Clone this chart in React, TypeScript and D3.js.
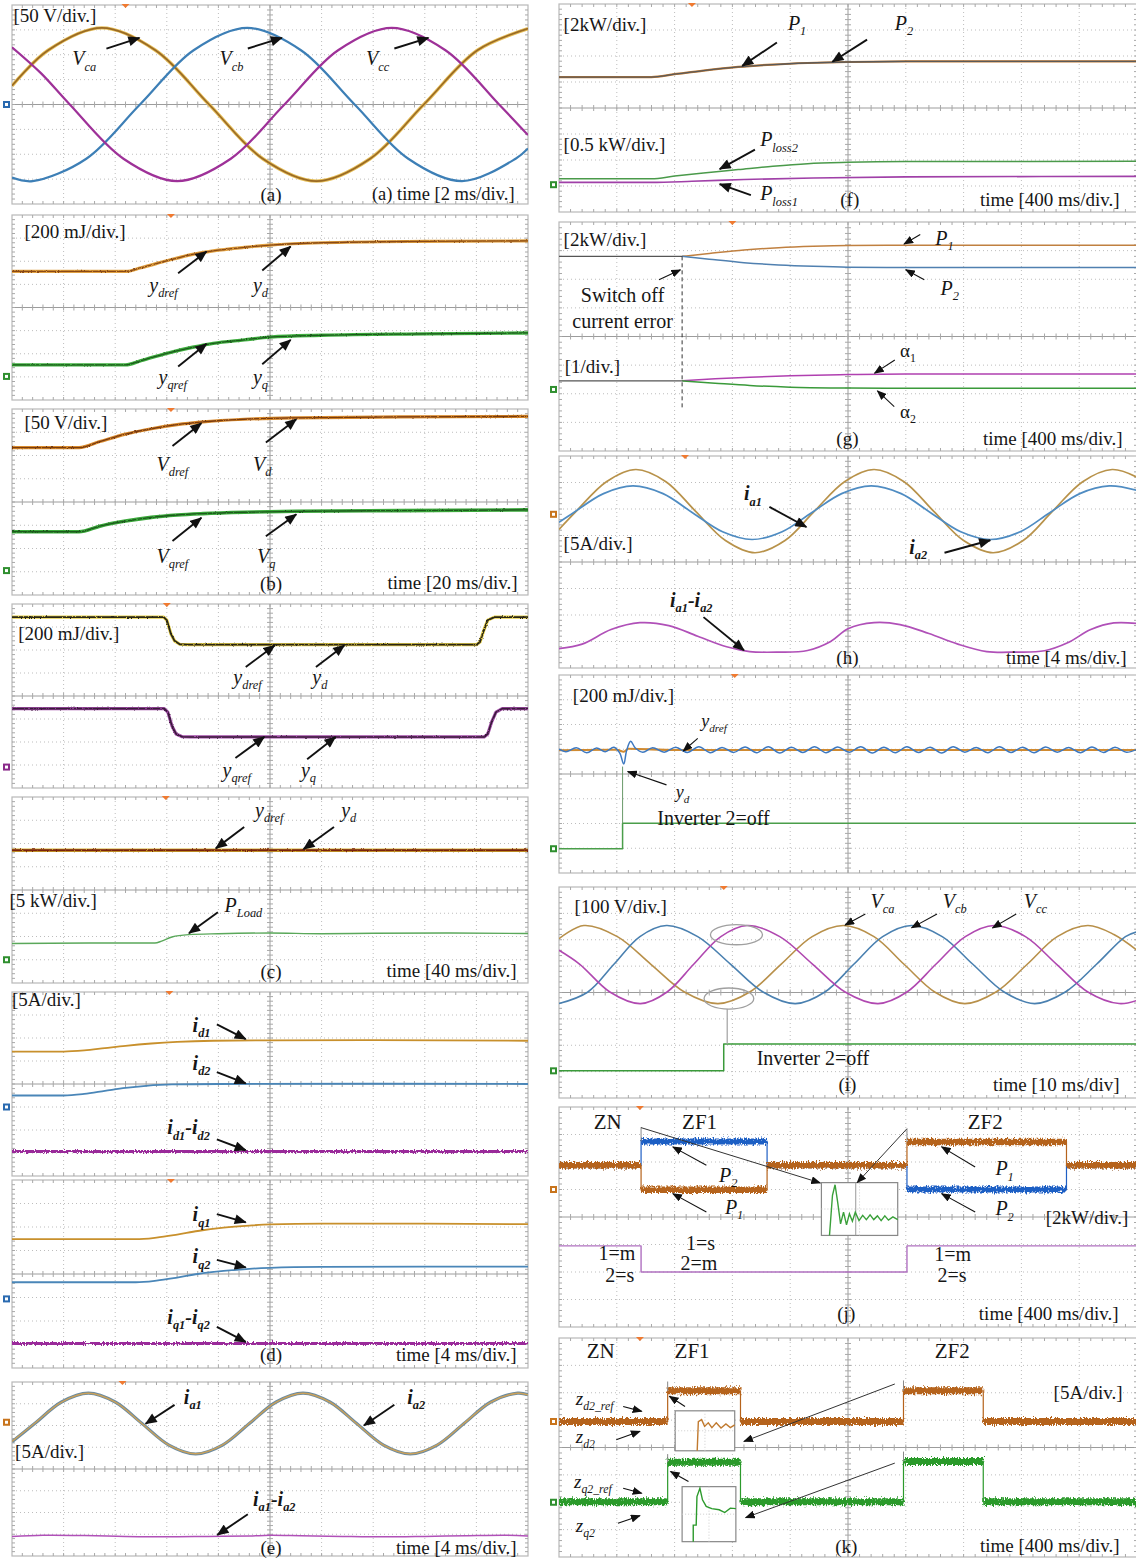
import React from "react";
import * as d3 from "d3";

type Pt = [number, number];

// ---------------- DATA (x in divisions 0..10, y in divisions -4..4) ----------------
// (a) three-phase voltages, 50 V/div
const aVca: Pt[] = [[0,0.75],[0.7,2.18],[1.74,3.08],[2.78,2.18],[3.82,0],[4.86,-2.18],[5.9,-3.08],[6.94,-2.18],[7.98,0],[9.02,2.18],[10,3.05]];
const aVcb: Pt[] = [[0,-2.94],[0.4,-3.08],[1.44,-2.18],[2.48,0],[3.52,2.18],[4.56,3.08],[5.6,2.18],[6.64,0],[7.68,-2.18],[8.72,-3.08],[9.76,-2.18],[10,-1.77]];
const aVcc: Pt[] = [[0,2.3],[0.56,1.26],[1.12,0],[2.16,-2.18],[3.2,-3.08],[4.24,-2.18],[5.28,0],[6.32,2.18],[7.36,3.08],[8.4,2.18],[9.44,0],[10,-1.23]];
// (b) upper
const b1Yd: Pt[] = [[0,1.56],[2.2,1.56],[2.5,1.72],[3.0,2.02],[3.5,2.3],[3.9,2.45],[4.5,2.6],[5.0,2.7],[6,2.8],[8,2.86],[10,2.88]];
const b1Yq: Pt[] = [[0,-2.48],[2.2,-2.48],[2.5,-2.3],[3.0,-1.98],[3.5,-1.72],[3.9,-1.55],[4.5,-1.4],[5.0,-1.28],[6,-1.2],[8,-1.14],[10,-1.1]];
// (b) lower
const b2Vd: Pt[] = [[0,2.34],[1.3,2.34],[1.7,2.6],[2.2,2.92],[2.7,3.15],[3.2,3.33],[3.7,3.45],[4.5,3.56],[5.5,3.62],[7.5,3.66],[10,3.68]];
const b2Vq: Pt[] = [[0,-1.28],[1.3,-1.28],[1.7,-1.04],[2.2,-0.82],[2.7,-0.66],[3.2,-0.56],[3.7,-0.5],[4.5,-0.44],[5.5,-0.4],[7.5,-0.37],[10,-0.34]];
// (c) upper
const c1Yd: Pt[] = [[0,3.43],[2.94,3.43],[3.0,3.3],[3.08,2.7],[3.15,2.4],[3.25,2.25],[3.4,2.23],[9.0,2.23],[9.07,2.35],[9.15,2.9],[9.22,3.3],[9.35,3.43],[10,3.43]];
const c1Yq: Pt[] = [[0,-0.55],[2.95,-0.55],[3.02,-0.7],[3.1,-1.3],[3.18,-1.65],[3.3,-1.77],[3.45,-1.78],[9.15,-1.78],[9.22,-1.65],[9.3,-1.1],[9.38,-0.7],[9.5,-0.55],[10,-0.55]];
// (c) lower
const c2Yd: Pt[] = [[0,1.71],[10,1.71]];
const c2Pload: Pt[] = [[0,-2.3],[1.5,-2.28],[2.77,-2.28],[2.9,-2.2],[3.1,-2.02],[3.42,-1.92],[4,-1.88],[5,-1.85],[6,-1.88],[7,-1.86],[8.5,-1.85],[10,-1.87]];
// (d) upper
const d1Id1: Pt[] = [[0,1.41],[1.0,1.41],[1.4,1.46],[1.8,1.56],[2.2,1.66],[2.7,1.76],[3.2,1.83],[3.9,1.88],[5,1.9],[7,1.91],[10,1.88]];
const d1Id2: Pt[] = [[0,-0.5],[1.0,-0.5],[1.4,-0.43],[1.8,-0.3],[2.2,-0.17],[2.6,-0.08],[3.1,-0.02],[4,0],[7,0.01],[10,0]];
const d1Diff: Pt[] = [[0,-2.94],[10,-2.94]];
// (d) lower
const d2Iq1: Pt[] = [[0,1.48],[2.4,1.48],[2.8,1.55],[3.2,1.68],[3.6,1.83],[4.1,1.97],[4.6,2.06],[5.0,2.11],[6,2.14],[8,2.14],[10,2.12]];
const d2Iq2: Pt[] = [[0,-0.35],[2.4,-0.35],[2.8,-0.28],[3.2,-0.15],[3.6,0.0],[4.1,0.13],[4.6,0.22],[5.0,0.26],[6,0.3],[8,0.31],[10,0.31]];
const d2Diff: Pt[] = [[0,-2.96],[10,-2.96]];
// (e)
const eIa1: Pt[] = [[0,1.25],[0.44,2.09],[0.96,3.08],[1.48,3.49],[2.0,3.08],[2.52,2.09],[3.04,1.1],[3.56,0.69],[4.08,1.1],[4.6,2.09],[5.12,3.08],[5.64,3.49],[6.16,3.08],[6.68,2.09],[7.2,1.1],[7.72,0.69],[8.24,1.1],[8.76,2.09],[9.28,3.08],[9.8,3.49],[10,3.42]];
const eIa2: Pt[] = [[0,1.27],[0.44,2.1],[0.96,3.08],[1.48,3.48],[2.0,3.07],[2.52,2.08],[3.04,1.1],[3.56,0.7],[4.08,1.11],[4.6,2.1],[5.12,3.08],[5.64,3.48],[6.16,3.07],[6.68,2.08],[7.2,1.1],[7.72,0.7],[8.24,1.11],[8.76,2.1],[9.28,3.08],[9.8,3.48],[10,3.41]];
const eDiff: Pt[] = [[0,-3.1],[0.6,-3.05],[1.4,-3.06],[2.2,-3.1],[3.0,-3.12],[3.8,-3.1],[4.6,-3.08],[5.0,-3.05],[5.6,-3.07],[6.4,-3.1],[7.2,-3.12],[8.0,-3.1],[8.8,-3.07],[9.6,-3.05],[10,-3.08]];
// (f)
const fP1: Pt[] = [[0,1.19],[1.6,1.19],[2.0,1.3],[2.5,1.44],[3.1,1.58],[3.7,1.67],[4.3,1.73],[5.0,1.77],[6,1.79],[10,1.79]];
const fP2: Pt[] = [[0,1.19],[1.6,1.19],[2.0,1.3],[2.5,1.44],[3.1,1.58],[3.7,1.67],[4.3,1.73],[5.0,1.77],[6,1.79],[10,1.79]];
const fPloss2: Pt[] = [[0,-2.72],[1.6,-2.72],[2.0,-2.62],[2.5,-2.5],[3.1,-2.37],[3.7,-2.24],[4.3,-2.14],[5.0,-2.09],[6,-2.06],[10,-2.05]];
const fPloss1: Pt[] = [[0,-2.86],[1.6,-2.86],[2.3,-2.82],[3.2,-2.75],[4.4,-2.69],[6,-2.65],[10,-2.63]];
// (g)
const gPcommon: Pt[] = [[0,2.8],[2.13,2.8]];
const gP1: Pt[] = [[2.13,2.8],[2.6,2.9],[3.2,3.02],[3.8,3.1],[4.4,3.15],[5.0,3.18],[6,3.19],[10,3.19]];
const gP2: Pt[] = [[2.13,2.8],[2.6,2.7],[3.2,2.58],[3.8,2.5],[4.4,2.45],[5.0,2.42],[6,2.41],[10,2.41]];
const gAcommon: Pt[] = [[0,-1.55],[2.13,-1.55]];
const gA1: Pt[] = [[2.13,-1.55],[2.7,-1.48],[3.3,-1.42],[4.0,-1.37],[5.0,-1.33],[6,-1.31],[10,-1.31]];
const gA2: Pt[] = [[2.13,-1.55],[2.7,-1.63],[3.3,-1.71],[4.0,-1.77],[5.0,-1.8],[6,-1.81],[10,-1.81]];
// (h)
const hIa2: Pt[] = [[0,1.23],[0.3,1.92],[0.82,3.03],[1.33,3.49],[1.85,3.03],[2.36,1.92],[2.88,0.81],[3.39,0.35],[3.91,0.81],[4.42,1.92],[4.94,3.03],[5.45,3.49],[5.97,3.03],[6.48,1.92],[7.0,0.81],[7.51,0.35],[8.03,0.81],[8.54,1.92],[9.06,3.03],[9.57,3.49],[10,3.2]];
const hIa1: Pt[] = [[0,1.5],[0.25,1.86],[0.77,2.58],[1.28,2.87],[1.8,2.58],[2.31,1.86],[2.83,1.14],[3.34,0.85],[3.86,1.14],[4.37,1.86],[4.89,2.58],[5.4,2.87],[5.92,2.58],[6.43,1.86],[6.95,1.14],[7.46,0.85],[7.98,1.14],[8.49,1.86],[9.01,2.58],[9.52,2.87],[10,2.7]];
const hDiff: Pt[] = [[0,-3.27],[0.4,-3.1],[0.9,-2.55],[1.4,-2.29],[1.9,-2.4],[2.4,-2.8],[2.9,-3.2],[3.3,-3.38],[3.8,-3.4],[4.3,-3.34],[4.7,-3.0],[5.0,-2.52],[5.45,-2.29],[5.9,-2.36],[6.4,-2.7],[6.9,-3.1],[7.4,-3.38],[7.9,-3.4],[8.4,-3.35],[8.8,-3.05],[9.2,-2.55],[9.6,-2.3],[10,-2.32]];
// (i) upper
const i1Ydref: Pt[] = [[0,0.96],[1.0,0.98],[1.12,0.9],[1.2,1.02],[2,0.97],[5,0.97],[10,0.97]];
const i1Yd: Pt[] = [[0,1.0],[0.12,0.9],[0.3,1.06],[0.48,0.86],[0.65,1.05],[0.8,0.9],[0.95,1.08],[1.05,0.85],[1.12,0.4],[1.17,0.95],[1.24,1.32],[1.32,1.05],[1.45,0.88],[1.62,1.06],[1.82,0.88],[2.02,1.08],[2.22,0.87],[2.42,1.1],[2.62,0.86],[2.82,1.07],[3.02,0.87],[3.22,1.09],[3.42,0.86],[3.62,1.1],[3.82,0.85],[4.02,1.08],[4.22,0.87],[4.42,1.1],[4.62,0.86],[4.82,1.09],[5.02,0.88],[5.22,1.1],[5.42,0.85],[5.62,1.08],[5.82,0.86],[6.02,1.1],[6.22,0.87],[6.42,1.08],[6.62,0.85],[6.82,1.1],[7.02,0.88],[7.22,1.07],[7.42,0.86],[7.62,1.1],[7.82,0.87],[8.02,1.08],[8.22,0.86],[8.42,1.09],[8.62,0.88],[8.82,1.07],[9.02,0.86],[9.22,1.09],[9.42,0.87],[9.62,1.08],[9.82,0.88],[10,1.0]];
const i1Step: Pt[] = [[0,-3.02],[1.1,-3.02],[1.1,-1.99],[10,-1.99]];
// (i) lower
const i2Vca: Pt[] = [[0,2.04],[0.43,2.54],[1.01,2.12],[1.59,1.07],[2.17,0.02],[2.75,-0.42],[3.3,0.02],[3.84,1.07],[4.38,2.12],[4.92,2.54],[5.45,2.12],[5.97,1.07],[6.5,0.02],[7.02,-0.42],[7.56,0.02],[8.1,1.07],[8.62,2.12],[9.15,2.54],[9.6,2.2],[10,1.6]];
const i2Vcb: Pt[] = [[0,-0.42],[0.5,0.02],[0.95,1.07],[1.4,2.12],[1.86,2.54],[2.4,2.12],[2.97,1.07],[3.53,0.02],[4.09,-0.42],[4.6,0.02],[5.1,1.07],[5.6,2.12],[6.1,2.54],[6.63,2.12],[7.16,1.07],[7.7,0.02],[8.23,-0.42],[8.76,0.02],[9.3,1.07],[9.8,2.12],[10,2.3]];
const i2Vcc: Pt[] = [[0,1.6],[0.36,1.07],[0.88,0.02],[1.41,-0.42],[1.87,0.02],[2.33,1.07],[2.8,2.12],[3.26,2.54],[3.82,2.12],[4.39,1.07],[4.95,0.02],[5.52,-0.42],[6.02,0.02],[6.52,1.07],[7.03,2.12],[7.53,2.54],[8.07,2.12],[8.61,1.07],[9.15,0.02],[9.69,-0.42],[10,-0.3]];
const i2Step: Pt[] = [[0,-2.97],[2.85,-2.97],[2.85,-1.95],[10,-1.95]];
// (j)
const jP1: Pt[] = [[0,1.88],[1.42,1.88],[1.42,0.99],[3.6,0.99],[3.6,1.88],[6.02,1.88],[6.02,2.73],[8.78,2.73],[8.78,1.88],[10,1.88]];
const jP2: Pt[] = [[0,1.88],[1.42,1.88],[1.42,2.75],[3.6,2.75],[3.6,1.88],[6.02,1.88],[6.02,1.0],[8.78,1.0],[8.78,1.88],[10,1.88]];
const jMode: Pt[] = [[0,-1.05],[1.42,-1.05],[1.42,-2.0],[6.02,-2.0],[6.02,-1.05],[10,-1.05]];
const jInset: Pt[] = [[0.106,0],[0.145,0.76],[0.179,0.96],[0.213,0.63],[0.251,0.22],[0.29,0.44],[0.329,0.2],[0.367,0.41],[0.406,0.27],[0.444,0.44],[0.493,0.28],[0.541,0.38],[0.589,0.3],[0.638,0.39],[0.686,0.3],[0.734,0.37],[0.783,0.28],[0.831,0.37],[0.879,0.29],[0.937,0.35],[1,0.3]];
// (k)
const kZd2: Pt[] = [[0,0.95],[1.88,0.95],[1.88,2.07],[3.14,2.07],[3.14,0.95],[5.96,0.95],[5.96,2.07],[7.34,2.07],[7.34,0.95],[10,0.95]];
const kZq2: Pt[] = [[0,-1.98],[1.88,-1.98],[1.88,-0.54],[3.14,-0.54],[3.14,-1.98],[5.96,-1.98],[5.96,-0.51],[7.34,-0.51],[7.34,-1.98],[10,-1.98]];
const kInsetD: Pt[] = [[0.37,0],[0.389,0.73],[0.444,0.78],[0.494,0.61],[0.556,0.7],[0.617,0.58],[0.69,0.7],[0.77,0.57],[0.852,0.67],[0.926,0.58],[1,0.65]];
const kInsetQ: Pt[] = [[0.207,0],[0.207,0.3],[0.262,0.3],[0.276,0.82],[0.331,0.97],[0.379,0.76],[0.448,0.64],[0.552,0.6],[0.69,0.58],[0.793,0.53],[0.897,0.61],[1,0.6]];

// ---------------- STYLE ----------------
const FONT = "'Liberation Serif','Times New Roman',serif";
const C = {
  tan: "#b8924a", lblue: "#4f8cc2", lmag: "#b050b8",
  brown: "#b5631c", jblue: "#1f5fc4", kgreen: "#2c9a2c", gray: "#555",
};
const TS = 19; // plain text size
const IS = 20; // italic symbol size

type Trace = { data: Pt[]; color: string; width: number; curve?: any; filter?: string; band?: number; opacity?: number };
type Part = [string, string?];
type Lbl = { x: number; y: number; parts: Part[]; size?: number; italic?: boolean; bold?: boolean; anchor?: string };
type Arrow = { from: Pt; to: Pt; thin?: boolean };
type Seg = { from: Pt; to: Pt; color?: string; width?: number; dash?: string };
type Ell = { c: Pt; rx: number; ry: number };
type Inset = { box: [number, number, number, number]; trace: Pt[]; color: string; vline?: number };
type PanelCfg = {
  id: string; x0: number; x1: number; y0: number; y1: number;
  traces: Trace[]; labels: Lbl[]; arrows: Arrow[];
  segs?: Seg[]; ells?: Ell[]; insets?: Inset[]; calls?: Arrow[];
  markers?: { y: number; color: string }[]; trig?: number;
};

const mono = d3.curveMonotoneX;
const cat = d3.curveCatmullRom;
const lin = d3.curveLinear;

function Label({ x, y, parts, size = TS, italic, bold, anchor = "start" }: any) {
  const sub = size * 0.62;
  const shift = size * 0.27;
  const kids: any[] = [];
  let down = false;
  (parts as Part[]).forEach(([m, s], i) => {
    kids.push(<tspan key={"m" + i} dy={down ? -shift : 0} fontSize={size}>{m}</tspan>);
    down = false;
    if (s) {
      kids.push(<tspan key={"s" + i} dy={shift} fontSize={sub}>{s}</tspan>);
      down = true;
    }
  });
  return (
    <text x={x} y={y} fontFamily={FONT} fontStyle={italic ? "italic" : "normal"}
      fontWeight={bold ? "bold" : "normal"} textAnchor={anchor} fill="#161616">{kids}</text>
  );
}

function Panel({ p }: { p: PanelCfg }) {
  const sx = d3.scaleLinear().domain([0, 10]).range([p.x0, p.x1]);
  const sy = d3.scaleLinear().domain([-4, 4]).range([p.y1, p.y0]);
  const line = (curve: any) => d3.line<Pt>().x(d => sx(d[0])).y(d => sy(d[1])).curve(curve || lin);
  const clipId = "clip-" + p.id;
  const gx = d3.range(1, 10).filter(v => v !== 5);
  const gy = d3.range(-3, 4).filter(v => v !== 0);
  const mx = d3.range(1, 50).map(i => i * 0.2);
  const my = d3.range(1, 40).map(i => -4 + i * 0.2);
  const tickC = "#a8a8a8";
  return (
    <g>
      <defs>
        <clipPath id={clipId}><rect x={p.x0} y={p.y0} width={p.x1 - p.x0} height={p.y1 - p.y0} /></clipPath>
      </defs>
      <rect x={p.x0} y={p.y0} width={p.x1 - p.x0} height={p.y1 - p.y0} fill="#fff" stroke="#b8b8b8" strokeWidth={1.2} />
      {gx.map(v => <line key={"gx" + v} x1={sx(v)} x2={sx(v)} y1={p.y0} y2={p.y1} stroke="#bdbdbd" strokeDasharray="1,3" />)}
      {gy.map(v => <line key={"gy" + v} y1={sy(v)} y2={sy(v)} x1={p.x0} x2={p.x1} stroke="#bdbdbd" strokeDasharray="1,3" />)}
      <line x1={sx(5)} x2={sx(5)} y1={p.y0} y2={p.y1} stroke="#9c9c9c" />
      <line y1={sy(0)} y2={sy(0)} x1={p.x0} x2={p.x1} stroke="#9c9c9c" />
      {mx.map(v => <line key={"tx" + v} x1={sx(v)} x2={sx(v)} y1={sy(0) - 3} y2={sy(0) + 3} stroke={tickC} />)}
      {my.map(v => <line key={"ty" + v} y1={sy(v)} y2={sy(v)} x1={sx(5) - 3} x2={sx(5) + 3} stroke={tickC} />)}
      {mx.map(v => <line key={"tt" + v} x1={sx(v)} x2={sx(v)} y1={p.y0} y2={p.y0 + 3} stroke={tickC} />)}
      {mx.map(v => <line key={"tb" + v} x1={sx(v)} x2={sx(v)} y1={p.y1} y2={p.y1 - 3} stroke={tickC} />)}
      {my.map(v => <line key={"tl" + v} y1={sy(v)} y2={sy(v)} x1={p.x0} x2={p.x0 + 3} stroke={tickC} />)}
      {my.map(v => <line key={"tr" + v} y1={sy(v)} y2={sy(v)} x1={p.x1} x2={p.x1 - 3} stroke={tickC} />)}
      <g clipPath={`url(#${clipId})`}>
        {p.traces.map((t, i) => {
          if (t.band) {
            const segs: Pt[][] = [];
            for (let k = 0; k < t.data.length - 1; k++) if (t.data[k][1] === t.data[k + 1][1]) segs.push([t.data[k], t.data[k + 1]]);
            return (
              <g key={"tr" + i}>
                <path d={line(lin)(t.data) || ""} fill="none" stroke={t.color} strokeWidth={1.2} />
                <g filter={t.filter ? `url(#${t.filter})` : undefined}>
                  {segs.map((s, j) => <path key={j} d={line(lin)(s) || ""} fill="none" stroke={t.color} strokeWidth={t.band} />)}
                </g>
              </g>
            );
          }
          return <path key={"tr" + i} d={line(t.curve)(t.data) || ""} fill="none" stroke={t.color}
            strokeWidth={t.width} strokeOpacity={t.opacity ?? 1} strokeLinejoin="round"
            filter={t.filter ? `url(#${t.filter})` : undefined} />;
        })}
      </g>
      {(p.segs || []).map((s, i) => <line key={"sg" + i} x1={sx(s.from[0])} y1={sy(s.from[1])} x2={sx(s.to[0])} y2={sy(s.to[1])}
        stroke={s.color || "#777"} strokeWidth={s.width || 1} strokeDasharray={s.dash} />)}
      {(p.ells || []).map((e, i) => <ellipse key={"el" + i} cx={sx(e.c[0])} cy={sy(e.c[1])}
        rx={sx(e.rx) - sx(0)} ry={sy(0) - sy(e.ry)} fill="none" stroke="#a0a0a0" strokeWidth={1.3} />)}
      {(p.insets || []).map((ins, i) => {
        const [a, b, c, d] = ins.box;
        const ix = d3.scaleLinear().domain([0, 1]).range([sx(a), sx(c)]);
        const iy = d3.scaleLinear().domain([0, 1]).range([sy(d), sy(b)]);
        const il = d3.line<Pt>().x(q => ix(q[0])).y(q => iy(q[1]));
        return (
          <g key={"in" + i}>
            <rect x={sx(a)} y={sy(b)} width={sx(c) - sx(a)} height={sy(d) - sy(b)} fill="#fff" stroke="#888" strokeWidth={1.2} />
            <line x1={ix(0.5)} x2={ix(0.5)} y1={iy(0)} y2={iy(1)} stroke="#ccc" strokeDasharray="1,2" />
            <line x1={ix(0)} x2={ix(1)} y1={iy(0.5)} y2={iy(0.5)} stroke="#ccc" strokeDasharray="1,2" />
            {ins.vline !== undefined && <line x1={ix(ins.vline)} x2={ix(ins.vline)} y1={iy(0)} y2={iy(1)} stroke="#999" />}
            <path d={il(ins.trace) || ""} fill="none" stroke={ins.color} strokeWidth={1.4} />
          </g>
        );
      })}
      {(p.calls || []).map((a, i) => <line key={"cl" + i} x1={sx(a.from[0])} y1={sy(a.from[1])} x2={sx(a.to[0])} y2={sy(a.to[1])}
        stroke="#333" strokeWidth={1} markerEnd="url(#ahs)" />)}
      {p.arrows.map((a, i) => <line key={"ar" + i} x1={sx(a.from[0])} y1={sy(a.from[1])} x2={sx(a.to[0])} y2={sy(a.to[1])}
        stroke="#111" strokeWidth={a.thin ? 1.1 : 1.9} markerEnd={a.thin ? "url(#ahs)" : "url(#ahb)"} />)}
      {p.labels.map((l, i) => <Label key={"lb" + i} {...l} x={sx(l.x)} y={sy(l.y)} />)}
      {(p.markers || []).map((m, i) => (
        <g key={"mk" + i}>
          <rect x={p.x0 - 9} y={sy(m.y) - 3.5} width={7} height={7} fill={m.color} />
          <rect x={p.x0 - 7} y={sy(m.y) - 1.5} width={3} height={3} fill="#fff" />
        </g>
      ))}
      {p.trig !== undefined && <path d={`M${sx(p.trig) - 4},${p.y0 - 1} L${sx(p.trig) + 4},${p.y0 - 1} L${sx(p.trig)},${p.y0 + 3} Z`} fill="#f07a30" />}
    </g>
  );
}

const L = { x0: 12, x1: 528 };
const R = { x0: 559, x1: 1137 };
const tl = (t: string): Part[] => [[t]];
const it = (m: string, s: string): Part[] => [[m, s]];

const panels: PanelCfg[] = [
  { id: "a", ...L, y0: 5, y1: 204, trig: 2.2,
    traces: [
      { data: aVca, color: "#e6bf5a", width: 3.4, curve: cat },
      { data: aVca, color: "#9a6a24", width: 1.6, curve: cat },
      { data: aVcb, color: "#3d7fb6", width: 2.2, curve: cat },
      { data: aVcc, color: "#9e3198", width: 2.2, curve: cat },
    ],
    labels: [
      { x: 0.03, y: 3.3, parts: tl("[50 V/div.]") },
      { x: 1.17, y: 1.58, parts: it("V", "ca"), italic: true, size: IS },
      { x: 4.02, y: 1.58, parts: it("V", "cb"), italic: true, size: IS },
      { x: 6.86, y: 1.58, parts: it("V", "cc"), italic: true, size: IS },
      { x: 5.02, y: -3.88, parts: tl("(a)"), anchor: "middle" },
      { x: 9.74, y: -3.82, parts: tl("(a) time [2 ms/div.]"), anchor: "end", size: 18.5 },
    ],
    arrows: [
      { from: [1.83, 2.25], to: [2.47, 2.68] },
      { from: [4.57, 2.25], to: [5.23, 2.68] },
      { from: [7.41, 2.25], to: [8.07, 2.68] },
    ],
    markers: [{ y: 0, color: "#2a6ab0" }],
  },
  { id: "b1", ...L, y0: 215, y1: 400, trig: 3.08,
    traces: [
      { data: b1Yd, color: "#e0a040", width: 3.2, curve: mono },
      { data: b1Yd, color: "#8a4a14", width: 1.3, curve: mono, filter: "nL" },
      { data: b1Yq, color: "#3fae3f", width: 3.4, curve: mono },
      { data: b1Yq, color: "#1d5a1d", width: 1.3, curve: mono, filter: "nL" },
    ],
    labels: [
      { x: 0.24, y: 3.0, parts: tl("[200 mJ/div.]") },
      { x: 2.66, y: 0.69, parts: it("y", "dref"), italic: true, size: IS },
      { x: 4.67, y: 0.69, parts: it("y", "d"), italic: true, size: IS },
      { x: 2.84, y: -3.3, parts: it("y", "qref"), italic: true, size: IS },
      { x: 4.67, y: -3.3, parts: it("y", "q"), italic: true, size: IS },
    ],
    arrows: [
      { from: [3.22, 1.48], to: [3.77, 2.42] },
      { from: [4.85, 1.6], to: [5.4, 2.64] },
      { from: [3.22, -2.55], to: [3.77, -1.57] },
      { from: [4.85, -2.45], to: [5.4, -1.4] },
    ],
    markers: [{ y: -2.98, color: "#2f8f2f" }],
  },
  { id: "b2", ...L, y0: 409, y1: 595, trig: 3.08,
    traces: [
      { data: b2Vd, color: "#d88a2c", width: 3.2, curve: mono },
      { data: b2Vd, color: "#7a3a10", width: 1.3, curve: mono, filter: "nL" },
      { data: b2Vq, color: "#3aa83a", width: 3.6, curve: mono },
      { data: b2Vq, color: "#1d5a1d", width: 1.3, curve: mono, filter: "nL" },
    ],
    labels: [
      { x: 0.24, y: 3.13, parts: tl("[50 V/div.]") },
      { x: 2.8, y: 1.34, parts: it("V", "dref"), italic: true, size: IS },
      { x: 4.67, y: 1.34, parts: it("V", "d"), italic: true, size: IS },
      { x: 2.8, y: -2.61, parts: it("V", "qref"), italic: true, size: IS },
      { x: 4.75, y: -2.61, parts: it("V", "q"), italic: true, size: IS },
      { x: 5.02, y: -3.8, parts: tl("(b)"), anchor: "middle" },
      { x: 9.8, y: -3.75, parts: tl("time [20 ms/div.]"), anchor: "end" },
    ],
    arrows: [
      { from: [3.11, 2.41], to: [3.67, 3.39] },
      { from: [4.92, 2.56], to: [5.51, 3.56] },
      { from: [3.11, -1.68], to: [3.67, -0.68] },
      { from: [4.92, -1.47], to: [5.51, -0.53] },
    ],
    markers: [{ y: -2.95, color: "#2f8f2f" }],
  },
  { id: "c1", ...L, y0: 604, y1: 788, trig: 3.0,
    traces: [
      { data: c1Yd, color: "#e2cc44", width: 3.2, curve: lin },
      { data: c1Yd, color: "#2a2618", width: 1.8, curve: lin, filter: "nL" },
      { data: c1Yq, color: "#a04aa6", width: 3.2, curve: lin },
      { data: c1Yq, color: "#3a1a3a", width: 1.6, curve: lin, filter: "nL" },
    ],
    labels: [
      { x: 0.12, y: 2.42, parts: tl("[200 mJ/div.]") },
      { x: 4.29, y: 0.54, parts: it("y", "dref"), italic: true, size: IS },
      { x: 5.82, y: 0.54, parts: it("y", "d"), italic: true, size: IS },
      { x: 4.08, y: -3.5, parts: it("y", "qref"), italic: true, size: IS },
      { x: 5.6, y: -3.5, parts: it("y", "q"), italic: true, size: IS },
    ],
    arrows: [
      { from: [4.53, 1.26], to: [5.09, 2.2] },
      { from: [5.89, 1.26], to: [6.44, 2.2] },
      { from: [4.33, -2.7], to: [4.89, -1.78] },
      { from: [5.72, -2.75], to: [6.27, -1.78] },
    ],
    markers: [{ y: -3.09, color: "#8a2a8a" }],
  },
  { id: "c2", ...L, y0: 797, y1: 983, trig: 2.98,
    traces: [
      { data: c2Yd, color: "#d4b030", width: 3.4 },
      { data: c2Yd, color: "#7a2410", width: 1.8, filter: "nL" },
      { data: c2Pload, color: "#5aa85a", width: 1.4, curve: mono },
    ],
    labels: [
      { x: 4.71, y: 3.14, parts: it("y", "dref"), italic: true, size: IS },
      { x: 6.38, y: 3.14, parts: it("y", "d"), italic: true, size: IS },
      { x: -0.05, y: -0.71, parts: tl("[5 kW/div.]") },
      { x: 4.12, y: -0.93, parts: it("P", "Load"), italic: true, size: IS },
      { x: 5.02, y: -3.8, parts: tl("(c)"), anchor: "middle" },
      { x: 9.78, y: -3.75, parts: tl("time [40 ms/div.]"), anchor: "end" },
    ],
    arrows: [
      { from: [4.5, 2.71], to: [3.95, 1.79] },
      { from: [6.24, 2.71], to: [5.65, 1.76] },
      { from: [3.99, -0.96], to: [3.43, -1.86] },
    ],
    markers: [{ y: -3.0, color: "#2f8f2f" }],
  },
  { id: "d1", ...L, y0: 992, y1: 1176, trig: 3.05,
    traces: [
      { data: d1Id1, color: "#c8902c", width: 1.8, curve: mono },
      { data: d1Id2, color: "#4a86b8", width: 1.8, curve: mono },
      { data: d1Diff, color: "#9a2a9a", width: 3, filter: "nM" },
    ],
    labels: [
      { x: 0.0, y: 3.4, parts: tl("[5A/div.]") },
      { x: 3.5, y: 2.28, parts: it("i", "d1"), italic: true, bold: true, size: IS },
      { x: 3.5, y: 0.62, parts: it("i", "d2"), italic: true, bold: true, size: IS },
      { x: 3.01, y: -2.19, parts: [["i", "d1"], ["-i", "d2"]], italic: true, bold: true, size: IS },
    ],
    arrows: [
      { from: [3.97, 2.59], to: [4.53, 1.95] },
      { from: [3.97, 0.52], to: [4.53, 0.03] },
      { from: [3.97, -2.41], to: [4.53, -2.88] },
    ],
    markers: [{ y: -1.0, color: "#2a6ab0" }],
  },
  { id: "d2", ...L, y0: 1180, y1: 1368, trig: 3.08,
    traces: [
      { data: d2Iq1, color: "#c8902c", width: 1.8, curve: mono },
      { data: d2Iq2, color: "#4a86b8", width: 1.8, curve: mono },
      { data: d2Diff, color: "#9a2a9a", width: 3, filter: "nM" },
    ],
    labels: [
      { x: 3.5, y: 2.25, parts: it("i", "q1"), italic: true, bold: true, size: IS },
      { x: 3.5, y: 0.45, parts: it("i", "q2"), italic: true, bold: true, size: IS },
      { x: 3.01, y: -2.11, parts: [["i", "q1"], ["-i", "q2"]], italic: true, bold: true, size: IS },
      { x: 5.02, y: -3.7, parts: tl("(d)"), anchor: "middle" },
      { x: 9.78, y: -3.7, parts: tl("time [4 ms/div.]"), anchor: "end" },
    ],
    arrows: [
      { from: [3.97, 2.55], to: [4.53, 2.2] },
      { from: [3.97, 0.6], to: [4.53, 0.28] },
      { from: [3.97, -2.25], to: [4.53, -2.89] },
    ],
    markers: [{ y: -1.06, color: "#2a6ab0" }],
  },
  { id: "e", ...L, y0: 1382, y1: 1556, trig: 2.14,
    traces: [
      { data: eIa1, color: "#6a8aa0", width: 3.2, curve: cat },
      { data: eIa2, color: "#caa15a", width: 1.4, curve: cat },
      { data: eDiff, color: "#b050b8", width: 1.5, curve: cat },
    ],
    labels: [
      { x: 0.06, y: 0.5, parts: tl("[5A/div.]") },
      { x: 3.33, y: 3.0, parts: it("i", "a1"), italic: true, bold: true, size: IS },
      { x: 7.66, y: 3.0, parts: it("i", "a2"), italic: true, bold: true, size: IS },
      { x: 4.67, y: -1.69, parts: [["i", "a1"], ["-i", "a2"]], italic: true, bold: true, size: IS },
      { x: 5.02, y: -3.92, parts: tl("(e)"), anchor: "middle" },
      { x: 9.78, y: -3.92, parts: tl("time [4 ms/div.]"), anchor: "end" },
    ],
    arrows: [
      { from: [3.15, 2.95], to: [2.59, 2.08] },
      { from: [7.41, 2.95], to: [6.82, 2.0] },
      { from: [4.57, -2.08], to: [3.98, -3.03] },
    ],
    markers: [{ y: 2.15, color: "#c8741c" }],
  },
  // ---------------- right column ----------------
  { id: "f", ...R, y0: 4, y1: 212, trig: 2.3,
    traces: [
      { data: fP1, color: "#c07830", width: 2.2, curve: mono },
      { data: fP2, color: "#5a5a5a", width: 1.3, curve: mono },
      { data: fPloss2, color: "#4a9a4a", width: 1.5, curve: mono },
      { data: fPloss1, color: "#a040a8", width: 1.6, curve: mono },
    ],
    labels: [
      { x: 0.08, y: 2.95, parts: tl("[2kW/div.]") },
      { x: 3.96, y: 3.0, parts: it("P", "1"), italic: true, size: IS },
      { x: 5.81, y: 3.0, parts: it("P", "2"), italic: true, size: IS },
      { x: 0.08, y: -1.67, parts: tl("[0.5 kW/div.]") },
      { x: 3.48, y: -1.47, parts: it("P", "loss2"), italic: true, size: IS },
      { x: 3.48, y: -3.55, parts: it("P", "loss1"), italic: true, size: IS },
      { x: 5.03, y: -3.75, parts: tl("(f)"), anchor: "middle" },
      { x: 9.7, y: -3.75, parts: tl("time [400 ms/div.]"), anchor: "end" },
    ],
    arrows: [
      { from: [3.77, 2.52], to: [3.17, 1.62] },
      { from: [5.33, 2.63], to: [4.73, 1.78] },
      { from: [3.39, -1.6], to: [2.78, -2.35] },
      { from: [3.32, -3.35], to: [2.78, -2.93] },
    ],
    markers: [{ y: -2.95, color: "#2f8f2f" }],
  },
  { id: "g", ...R, y0: 222, y1: 451, trig: 3.0,
    traces: [
      { data: gP1, color: "#c08040", width: 1.5, curve: mono },
      { data: gP2, color: "#5080b0", width: 1.5, curve: mono },
      { data: gPcommon, color: C.gray, width: 1.4 },
      { data: gA1, color: "#b040b0", width: 1.5, curve: mono },
      { data: gA2, color: "#3a9a3a", width: 1.5, curve: mono },
      { data: gAcommon, color: C.gray, width: 1.4 },
    ],
    segs: [{ from: [2.13, 2.8], to: [2.13, -2.57], color: "#333", width: 1, dash: "4,3" }],
    labels: [
      { x: 0.08, y: 3.15, parts: tl("[2kW/div.]") },
      { x: 1.1, y: 1.2, parts: tl("Switch off"), anchor: "middle", size: 20 },
      { x: 1.1, y: 0.29, parts: tl("current error"), anchor: "middle", size: 20 },
      { x: 6.51, y: 3.2, parts: it("P", "1"), italic: true, size: IS },
      { x: 6.6, y: 1.46, parts: it("P", "2"), italic: true, size: IS },
      { x: 0.1, y: -1.28, parts: tl("[1/div.]") },
      { x: 5.9, y: -0.7, parts: [["α", "1"]], size: 19 },
      { x: 5.9, y: -2.86, parts: [["α", "2"]], size: 19 },
      { x: 4.99, y: -3.79, parts: tl("(g)"), anchor: "middle" },
      { x: 9.75, y: -3.79, parts: tl("time [400 ms/div.]"), anchor: "end" },
    ],
    arrows: [
      { from: [1.73, 1.98], to: [2.1, 2.33], thin: true },
      { from: [6.25, 3.56], to: [5.97, 3.23], thin: true },
      { from: [6.32, 1.98], to: [6.0, 2.33], thin: true },
      { from: [5.81, -0.82], to: [5.46, -1.28], thin: true },
      { from: [5.8, -2.45], to: [5.51, -1.9], thin: true },
    ],
    markers: [{ y: -1.85, color: "#2f8f2f" }],
  },
  { id: "h", ...R, y0: 456, y1: 668, trig: 2.18,
    traces: [
      { data: hIa2, color: C.tan, width: 1.7, curve: cat },
      { data: hIa1, color: C.lblue, width: 1.7, curve: cat },
      { data: hDiff, color: C.lmag, width: 1.7, curve: cat },
    ],
    labels: [
      { x: 3.2, y: 2.33, parts: it("i", "a1"), italic: true, bold: true, size: IS },
      { x: 6.06, y: 0.3, parts: it("i", "a2"), italic: true, bold: true, size: IS },
      { x: 0.08, y: 0.44, parts: tl("[5A/div.]") },
      { x: 1.92, y: -1.7, parts: [["i", "a1"], ["-i", "a2"]], italic: true, bold: true, size: IS },
      { x: 4.99, y: -3.84, parts: tl("(h)"), anchor: "middle" },
      { x: 9.82, y: -3.84, parts: tl("time [4 ms/div.]"), anchor: "end" },
    ],
    arrows: [
      { from: [3.64, 2.08], to: [4.28, 1.32] },
      { from: [6.67, 0.35], to: [7.46, 0.82] },
      { from: [2.5, -2.08], to: [3.2, -3.33] },
    ],
    markers: [{ y: 1.8, color: "#c8741c" }],
  },
  { id: "i1", ...R, y0: 675, y1: 873, trig: 3.04,
    traces: [
      { data: i1Ydref, color: "#d08a30", width: 2.2, curve: mono },
      { data: i1Yd, color: "#3d78c0", width: 1.5, curve: cat },
      { data: i1Step, color: "#4a9e4a", width: 1.5 },
    ],
    segs: [{ from: [1.1, -1.99], to: [1.1, 0.3], color: "#6a9a6a", width: 1 }],
    labels: [
      { x: 0.24, y: 2.92, parts: tl("[200 mJ/div.]") },
      { x: 2.46, y: 1.88, parts: it("y", "dref"), italic: true, size: 18 },
      { x: 2.02, y: -0.98, parts: it("y", "d"), italic: true, size: 18 },
      { x: 1.7, y: -2.06, parts: tl("Inverter 2=off"), size: 20 },
    ],
    arrows: [
      { from: [2.4, 1.44], to: [2.15, 0.93], thin: true },
      { from: [1.86, -0.44], to: [1.19, 0.1], thin: true },
    ],
    markers: [{ y: -3.02, color: "#2f8f2f" }],
  },
  { id: "i2", ...R, y0: 887, y1: 1098, trig: 2.85,
    traces: [
      { data: i2Vca, color: "#b8904a", width: 1.6, curve: cat },
      { data: i2Vcb, color: "#4a80b0", width: 1.6, curve: cat },
      { data: i2Vcc, color: "#b048b0", width: 1.6, curve: cat },
      { data: i2Step, color: "#3a9a3a", width: 1.5 },
    ],
    ells: [{ c: [3.07, 2.19], rx: 0.45, ry: 0.38 }, { c: [2.94, -0.23], rx: 0.43, ry: 0.4 }],
    segs: [{ from: [2.91, -0.63], to: [2.91, -1.95], color: "#a0a0a0", width: 1.2 }],
    labels: [
      { x: 0.27, y: 3.02, parts: tl("[100 V/div.]") },
      { x: 5.39, y: 3.21, parts: it("V", "ca"), italic: true, size: IS },
      { x: 6.64, y: 3.21, parts: it("V", "cb"), italic: true, size: IS },
      { x: 8.04, y: 3.21, parts: it("V", "cc"), italic: true, size: IS },
      { x: 3.42, y: -2.75, parts: tl("Inverter 2=off"), size: 20 },
      { x: 4.99, y: -3.75, parts: tl("(i)"), anchor: "middle" },
      { x: 9.7, y: -3.75, parts: tl("time [10 ms/div]"), anchor: "end" },
    ],
    arrows: [
      { from: [5.3, 2.98], to: [4.95, 2.56], thin: true },
      { from: [6.54, 2.98], to: [6.1, 2.45], thin: true },
      { from: [7.91, 2.98], to: [7.5, 2.45], thin: true },
    ],
    markers: [{ y: -2.97, color: "#2f8f2f" }],
  },
  { id: "j", ...R, y0: 1107, y1: 1327, trig: 1.4,
    traces: [
      { data: jP2, color: C.jblue, width: 1, band: 6, filter: "nS" },
      { data: jP1, color: C.brown, width: 1, band: 6.5, filter: "nS" },
      { data: jMode, color: "#b070c0", width: 1.4 },
    ],
    segs: [
      { from: [1.42, 2.75], to: [1.42, 3.27], color: "#888", width: 1 },
      { from: [6.02, 2.73], to: [6.02, 3.21], color: "#888", width: 1 },
    ],
    calls: [
      { from: [1.42, 3.25], to: [4.52, 1.24] },
      { from: [6.02, 3.21], to: [5.16, 1.25] },
    ],
    insets: [{ box: [4.54, 1.25, 5.86, -0.67], trace: jInset, color: "#3aa03a", vline: 0.45 }],
    labels: [
      { x: 0.6, y: 3.21, parts: tl("ZN"), size: 21 },
      { x: 2.13, y: 3.21, parts: tl("ZF1"), size: 21 },
      { x: 7.07, y: 3.21, parts: tl("ZF2"), size: 21 },
      { x: 2.77, y: 1.27, parts: it("P", "2"), italic: true, size: IS },
      { x: 2.87, y: 0.12, parts: it("P", "1"), italic: true, size: IS },
      { x: 7.55, y: 1.52, parts: it("P", "1"), italic: true, size: IS },
      { x: 7.55, y: 0.06, parts: it("P", "2"), italic: true, size: IS },
      { x: 9.85, y: -0.24, parts: tl("[2kW/div.]"), anchor: "end" },
      { x: 1.0, y: -1.58, parts: tl("1=m"), anchor: "middle", size: 20 },
      { x: 1.05, y: -2.36, parts: tl("2=s"), anchor: "middle", size: 20 },
      { x: 2.45, y: -1.19, parts: tl("1=s"), anchor: "middle", size: 20 },
      { x: 2.42, y: -1.93, parts: tl("2=m"), anchor: "middle", size: 20 },
      { x: 6.81, y: -1.6, parts: tl("1=m"), anchor: "middle", size: 20 },
      { x: 6.8, y: -2.36, parts: tl("2=s"), anchor: "middle", size: 20 },
      { x: 4.97, y: -3.76, parts: tl("(j)"), anchor: "middle" },
      { x: 9.68, y: -3.76, parts: tl("time [400 ms/div.]"), anchor: "end" },
    ],
    arrows: [
      { from: [2.55, 1.88], to: [1.97, 2.55], thin: true },
      { from: [2.55, 0.18], to: [1.97, 0.85], thin: true },
      { from: [7.2, 1.82], to: [6.62, 2.55], thin: true },
      { from: [7.2, 0.18], to: [6.62, 0.85], thin: true },
    ],
    markers: [{ y: 1.0, color: "#c8741c" }],
  },
  { id: "k", ...R, y0: 1338, y1: 1557, trig: 1.4,
    traces: [
      { data: kZd2, color: C.brown, width: 1, band: 7, filter: "nS" },
      { data: kZq2, color: C.kgreen, width: 1, band: 7, filter: "nS" },
    ],
    segs: [
      { from: [1.88, 2.07], to: [1.88, 2.41], color: "#888" },
      { from: [5.96, 2.07], to: [5.96, 2.45], color: "#888" },
      { from: [1.88, -0.54], to: [1.88, -0.24], color: "#888" },
      { from: [5.96, -0.51], to: [5.96, -0.15], color: "#888" },
    ],
    insets: [
      { box: [2.01, 1.34, 3.04, -0.12], trace: kInsetD, color: "#c07a30" },
      { box: [2.13, -1.43, 3.06, -3.44], trace: kInsetQ, color: "#2c9a2c" },
    ],
    calls: [
      { from: [5.81, 2.32], to: [3.2, 0.22] },
      { from: [5.81, -0.57], to: [3.23, -2.56] },
    ],
    labels: [
      { x: 0.48, y: 3.27, parts: tl("ZN"), size: 21 },
      { x: 2.0, y: 3.27, parts: tl("ZF1"), size: 21 },
      { x: 6.5, y: 3.27, parts: tl("ZF2"), size: 21 },
      { x: 9.75, y: 1.78, parts: tl("[5A/div.]"), anchor: "end" },
      { x: 0.29, y: 1.56, parts: it("z", "d2_ref"), italic: true, size: 19 },
      { x: 0.29, y: 0.16, parts: it("z", "d2"), italic: true, size: 19 },
      { x: 0.26, y: -1.49, parts: it("z", "q2_ref"), italic: true, size: 19 },
      { x: 0.29, y: -3.07, parts: it("z", "q2"), italic: true, size: 19 },
      { x: 4.97, y: -3.87, parts: tl("(k)"), anchor: "middle" },
      { x: 9.7, y: -3.8, parts: tl("time [400 ms/div.]"), anchor: "end" },
    ],
    arrows: [
      { from: [1.11, 1.5], to: [1.43, 1.32], thin: true },
      { from: [0.99, 0.28], to: [1.4, 0.59], thin: true },
      { from: [1.11, -1.49], to: [1.43, -1.67], thin: true },
      { from: [1.02, -2.77], to: [1.4, -2.49], thin: true },
      { from: [2.18, 1.5], to: [1.91, 1.87], thin: true },
      { from: [2.24, -1.24], to: [1.93, -0.88], thin: true },
    ],
    markers: [{ y: 0.95, color: "#c8741c" }, { y: -2.0, color: "#2f8f2f" }],
  },
];

export default function App() {
  return (
    <svg width={1136} height={1560} viewBox="0 0 1136 1560"
      style={{ position: "absolute", left: 0, top: 0, background: "#fff" }}>
      <defs>
        <marker id="ahb" viewBox="0 0 12 10" refX="11" refY="5" markerWidth="13" markerHeight="10" markerUnits="userSpaceOnUse" orient="auto">
          <path d="M0,0 L12,5 L0,10 z" fill="#111" />
        </marker>
        <marker id="ahs" viewBox="0 0 10 8" refX="9" refY="4" markerWidth="10" markerHeight="8" markerUnits="userSpaceOnUse" orient="auto">
          <path d="M0,0 L10,4 L0,8 z" fill="#111" />
        </marker>
        <filter id="nS" filterUnits="userSpaceOnUse" x="0" y="0" width="1136" height="1560">
          <feTurbulence type="fractalNoise" baseFrequency="0.9 0.4" numOctaves="2" seed="4" result="t" />
          <feDisplacementMap in="SourceGraphic" in2="t" scale="7" xChannelSelector="R" yChannelSelector="G" />
        </filter>
        <filter id="nM" filterUnits="userSpaceOnUse" x="0" y="0" width="1136" height="1560">
          <feTurbulence type="fractalNoise" baseFrequency="0.9 0.5" numOctaves="2" seed="7" result="t" />
          <feDisplacementMap in="SourceGraphic" in2="t" scale="4" xChannelSelector="R" yChannelSelector="G" />
        </filter>
        <filter id="nL" filterUnits="userSpaceOnUse" x="0" y="0" width="1136" height="1560">
          <feTurbulence type="fractalNoise" baseFrequency="0.8 0.5" numOctaves="2" seed="2" result="t" />
          <feDisplacementMap in="SourceGraphic" in2="t" scale="2.5" xChannelSelector="R" yChannelSelector="G" />
        </filter>
      </defs>
      <rect x={0} y={0} width={1136} height={1560} fill="#fff" />
      {panels.map(p => <Panel key={p.id} p={p} />)}
    </svg>
  );
}
